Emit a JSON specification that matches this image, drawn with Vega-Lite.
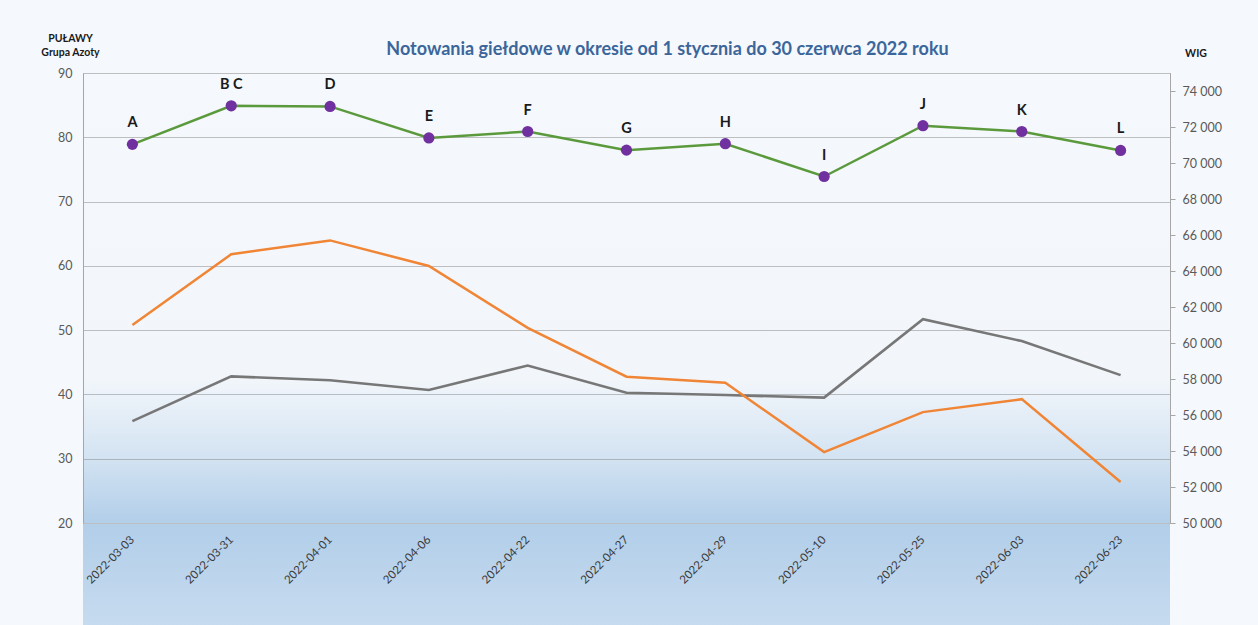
{
  "$schema": "https://vega.github.io/schema/vega-lite/v6.json",
  "width": 1087,
  "height": 450,
  "autosize": {"type": "none"},
  "padding": {"left": 83, "top": 73, "right": 88, "bottom": 102},
  "background": "#f5f8fc",
  "title": {
    "text": "Notowania giełdowe w okresie od 1 stycznia do 30 czerwca 2022 roku",
    "font": "Lato",
    "fontSize": 18,
    "fontWeight": "bold",
    "color": "#3b669b",
    "anchor": "middle",
    "frame": "group",
    "baseline": "alphabetic",
    "dx": 41,
    "dy": 40,
    "offset": 0
  },
  "config": {
    "view": {
      "stroke": null,
      "fill": {
        "gradient": "linear",
        "x1": 0, "y1": 0, "x2": 0, "y2": 1,
        "stops": [
          {"offset": 0, "color": "#f5f8fc"},
          {"offset": 0.68, "color": "#f2f6fb"},
          {"offset": 0.84, "color": "#d6e5f3"},
          {"offset": 1, "color": "#b2cee9"}
        ]
      }
    },
    "axis": {"labelFont": "Lato", "titleFont": "Lato"}
  },
  "data": {
    "values": [
      {"date": "2022-03-03", "label": "A", "pulawy": 78.9, "azoty": 35.85, "wig": 61000},
      {"date": "2022-03-31", "label": "B C", "pulawy": 84.9, "azoty": 42.8, "wig": 64930},
      {"date": "2022-04-01", "label": "D", "pulawy": 84.8, "azoty": 42.2, "wig": 65700},
      {"date": "2022-04-06", "label": "E", "pulawy": 79.9, "azoty": 40.7, "wig": 64280},
      {"date": "2022-04-22", "label": "F", "pulawy": 80.9, "azoty": 44.5, "wig": 60840},
      {"date": "2022-04-27", "label": "G", "pulawy": 78.0, "azoty": 40.25, "wig": 58130},
      {"date": "2022-04-29", "label": "H", "pulawy": 79.0, "azoty": 39.9, "wig": 57790},
      {"date": "2022-05-10", "label": "I", "pulawy": 73.9, "azoty": 39.5, "wig": 53940},
      {"date": "2022-05-25", "label": "J", "pulawy": 81.8, "azoty": 51.7, "wig": 56160},
      {"date": "2022-06-03", "label": "K", "pulawy": 80.9, "azoty": 48.3, "wig": 56880},
      {"date": "2022-06-23", "label": "L", "pulawy": 77.95, "azoty": 43.0, "wig": 52280}
    ]
  },
  "layer": [
    {
      "layer": [
        {
          "mark": {
            "type": "rect",
            "fill": {
              "gradient": "linear",
              "x1": 0, "y1": 0, "x2": 0, "y2": 1,
              "stops": [
                {"offset": 0, "color": "#b2cee9"},
                {"offset": 1, "color": "#c6dbef"}
              ]
            }
          },
          "encoding": {
            "y": {"datum": 19.85, "type": "quantitative"},
            "y2": {"datum": 4}
          }
        },
        {
          "mark": {"type": "line", "color": "#777777", "strokeWidth": 2.6},
          "encoding": {
            "x": {
              "field": "date", "type": "ordinal", "sort": null,
              "scale": {"type": "point", "padding": 0.5},
              "axis": {
                "title": null, "domain": false, "ticks": false, "grid": false,
                "labelAngle": -45, "labelAlign": "right", "labelBaseline": "middle",
                "labelPadding": 15, "labelFontSize": 11.5, "labelColor": "#3a3a3a",
                "zindex": 1
              }
            },
            "y": {
              "field": "azoty", "type": "quantitative",
              "scale": {"domain": [20, 90], "nice": false, "zero": false},
              "axis": {
                "orient": "left",
                "values": [20, 30, 40, 50, 60, 70, 80, 90],
                "title": ["PUŁAWY", "Grupa Azoty"],
                "titleAngle": 0, "titleAlign": "center", "titleBaseline": "alphabetic",
                "titleX": -13, "titleY": -32, "titleFontSize": 10.5, "titleFontWeight": "bold",
                "titleColor": "#1a1a1a", "titleLineHeight": 14.5,
                "labelFontSize": 12.5, "labelColor": "#595959", "labelPadding": 11,
                "ticks": false, "domainColor": "#a6a6a6", "domainWidth": 1,
                "grid": true, "gridColor": "#858585", "gridDash": [1, 1], "gridWidth": 1
              }
            }
          }
        },
        {
          "mark": {"type": "line", "color": "#5b9a3c", "strokeWidth": 2.5},
          "encoding": {
            "x": {"field": "date", "type": "ordinal", "sort": null},
            "y": {"field": "pulawy", "type": "quantitative"}
          }
        },
        {
          "mark": {"type": "point", "filled": true, "color": "#7030a0", "opacity": 1, "size": 125},
          "encoding": {
            "x": {"field": "date", "type": "ordinal", "sort": null},
            "y": {"field": "pulawy", "type": "quantitative"}
          }
        },
        {
          "mark": {"type": "text", "font": "Lato", "fontSize": 14.5, "fontWeight": "bold", "color": "#1a1a1a", "baseline": "alphabetic", "dy": -17},
          "encoding": {
            "x": {"field": "date", "type": "ordinal", "sort": null},
            "y": {"field": "pulawy", "type": "quantitative"},
            "text": {"field": "label"}
          }
        }
      ]
    },
    {
      "mark": {"type": "line", "color": "#f08535", "strokeWidth": 2.5},
      "encoding": {
        "x": {"field": "date", "type": "ordinal", "sort": null},
        "y": {
          "field": "wig", "type": "quantitative",
          "scale": {"domain": [50000, 75000], "nice": false, "zero": false},
          "axis": {
            "orient": "right",
            "values": [50000, 52000, 54000, 56000, 58000, 60000, 62000, 64000, 66000, 68000, 70000, 72000, 74000],
            "labelExpr": "replace(format(datum.value, ',d'), ',', ' ')",
            "title": "WIG",
            "titleAngle": 0, "titleAlign": "center", "titleBaseline": "alphabetic",
            "titleX": 25.5, "titleY": -17, "titleFontSize": 10.5, "titleFontWeight": "bold",
            "titleColor": "#1a1a1a",
            "labelFontSize": 12.5, "labelColor": "#595959", "labelPadding": 7,
            "ticks": true, "tickSize": 5, "tickColor": "#a6a6a6",
            "domainColor": "#a6a6a6", "domainWidth": 1, "grid": false
          }
        }
      }
    }
  ],
  "resolve": {"scale": {"y": "independent"}}
}
